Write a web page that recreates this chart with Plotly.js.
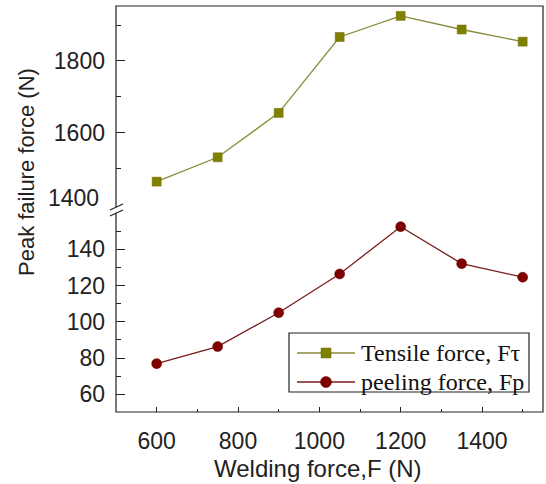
<!DOCTYPE html>
<html>
<head>
<meta charset="utf-8">
<script src="https://cdn.plot.ly/plotly-3.0.1.min.js"></script>
<style>html,body{margin:0;padding:0;background:#fff;}#chart{width:546px;height:484px;}</style>
</head>
<body>
<div id="chart"></div>
<script>
// Data
const weldingForce = [600, 750, 900, 1050, 1200, 1350, 1500];
const tensileForce = [1463, 1531, 1655, 1867, 1926, 1888, 1854];
const peelingForce = [76.9, 86.3, 105, 126.4, 152.5, 132.1, 124.6];
const xTicks = [600, 800, 1000, 1200, 1400];
const topTicks = [1600, 1800];
const bottomTicks = [60, 80, 100, 120, 140];
const seriesNames = ['Tensile force, F\u03C4', 'peeling force, Fp'];

// geometry helpers (plot area: left 116, right 543, top 6, bottom 412)
const L = 116, R = 543, T = 6, B = 412;
const px = v => (v - L) / (R - L);
const py = v => (B - v) / (B - T);
const split = py(210);

const sans = 'Liberation Sans, Arial, sans-serif';
const serif = 'Liberation Serif, Times New Roman, serif';
const tickFont = {family: sans, size: 23, color: '#222'};

const tensileLine = '#8a8a3a', tensileMarker = '#808000';
const peelLine = '#7a1c1c', peelMarker = '#800000';

const traces = [
  {
    x: weldingForce, y: tensileForce, yaxis: 'y2', xaxis: 'x',
    name: seriesNames[0], mode: 'lines+markers', showlegend: false,
    line: {color: tensileLine, width: 1.3},
    marker: {symbol: 'square', size: 9, color: tensileMarker, line: {color: '#6e6e00', width: 0.5}}
  },
  {
    x: weldingForce, y: peelingForce, yaxis: 'y', xaxis: 'x',
    name: seriesNames[1], mode: 'lines+markers', showlegend: false,
    line: {color: peelLine, width: 1.3},
    marker: {symbol: 'circle', size: 10, color: peelMarker, line: {color: '#600000', width: 0.5}}
  }
];

// manual legend geometry (pixels)
const lg = {x0: 289, x1: 529, y0: 333, y1: 392, rows: [353, 382], l0: 297, l1: 355, m: 326, tx: 359};

const shapes = [
  {type: 'rect', xref: 'paper', yref: 'paper', x0: 0, x1: 1, y0: 0, y1: 1, line: {color: '#222', width: 1.2}},
  {type: 'rect', xref: 'paper', yref: 'paper', x0: px(113), x1: px(119), y0: py(213), y1: py(207), fillcolor: '#fff', line: {width: 0}},
  {type: 'line', xref: 'paper', yref: 'paper', x0: px(110), y0: py(210), x1: px(123), y1: py(204), line: {color: '#222', width: 1.2}},
  {type: 'line', xref: 'paper', yref: 'paper', x0: px(110), y0: py(216), x1: px(123), y1: py(210), line: {color: '#222', width: 1.2}},
  // legend box
  {type: 'rect', xref: 'paper', yref: 'paper', x0: px(lg.x0), x1: px(lg.x1), y0: py(lg.y1), y1: py(lg.y0), fillcolor: '#fff', line: {color: '#222', width: 1.2}},
  // legend row 1
  {type: 'line', xref: 'paper', yref: 'paper', x0: px(lg.l0), x1: px(lg.l1), y0: py(lg.rows[0]), y1: py(lg.rows[0]), line: {color: tensileLine, width: 1.3}},
  {type: 'rect', xref: 'paper', yref: 'paper', x0: px(lg.m - 5), x1: px(lg.m + 5), y0: py(lg.rows[0] + 5), y1: py(lg.rows[0] - 5), fillcolor: tensileMarker, line: {color: '#6e6e00', width: 0.5}},
  // legend row 2
  {type: 'line', xref: 'paper', yref: 'paper', x0: px(lg.l0), x1: px(lg.l1), y0: py(lg.rows[1]), y1: py(lg.rows[1]), line: {color: peelLine, width: 1.3}},
  {type: 'circle', xref: 'paper', yref: 'paper', x0: px(lg.m - 5.5), x1: px(lg.m + 5.5), y0: py(lg.rows[1] + 5.5), y1: py(lg.rows[1] - 5.5), fillcolor: peelMarker, line: {color: '#600000', width: 0.5}}
];

const layout = {
  width: 546, height: 484,
  margin: {l: L, r: 546 - R, t: T, b: 484 - B, pad: 0},
  paper_bgcolor: '#fff', plot_bgcolor: '#fff',
  showlegend: false,
  xaxis: {
    range: [500, 1550], tickvals: xTicks, ticks: 'inside', ticklen: 5, tickcolor: '#222',
    minor: {tickvals: [700, 900, 1100, 1300, 1500], ticks: 'inside', ticklen: 3, tickcolor: '#222'},
    showgrid: false, zeroline: false, showline: false,
    tickfont: tickFont, ticklabelstandoff: 13,
    anchor: 'y'
  },
  yaxis: {
    domain: [0, split], range: [50.2, 161.7], tickvals: bottomTicks,
    ticks: 'inside', ticklen: 9, tickcolor: '#222',
    minor: {tickvals: [70, 90, 110, 130, 150], ticks: 'inside', ticklen: 5, tickcolor: '#222'},
    showgrid: false, zeroline: false, showline: false,
    tickfont: tickFont, ticklabelstandoff: 10, anchor: 'x'
  },
  yaxis2: {
    domain: [split, 1], range: [1383.8, 1953.6], tickvals: topTicks,
    ticks: 'inside', ticklen: 9, tickcolor: '#222',
    minor: {tickvals: [1500, 1700, 1900], ticks: 'inside', ticklen: 5, tickcolor: '#222'},
    showgrid: false, zeroline: false, showline: false,
    tickfont: tickFont, ticklabelstandoff: 10, anchor: 'x'
  },
  shapes: shapes,
  annotations: [
    {text: '1400', xref: 'paper', yref: 'paper', x: px(101), y: py(198), xanchor: 'right', yanchor: 'middle', showarrow: false, font: tickFont},
    {text: 'Welding force,F (N)', xref: 'paper', yref: 'paper', x: px(318), y: py(468), xanchor: 'center', yanchor: 'middle', showarrow: false,
     font: {family: sans, size: 24, color: '#222'}},
    {text: 'Peak failure force (N)', xref: 'paper', yref: 'paper', x: px(27), y: py(172), xanchor: 'center', yanchor: 'middle', textangle: -90, showarrow: false,
     font: {family: sans, size: 22, color: '#222'}},
    {text: seriesNames[0], xref: 'paper', yref: 'paper', x: px(lg.tx), y: py(lg.rows[0]), xanchor: 'left', yanchor: 'middle', showarrow: false,
     font: {family: serif, size: 24, color: '#111'}},
    {text: seriesNames[1], xref: 'paper', yref: 'paper', x: px(lg.tx), y: py(lg.rows[1]), xanchor: 'left', yanchor: 'middle', showarrow: false,
     font: {family: serif, size: 24, color: '#111'}}
  ]
};

Plotly.newPlot('chart', traces, layout, {staticPlot: true, displayModeBar: false});
</script>
</body>
</html>
